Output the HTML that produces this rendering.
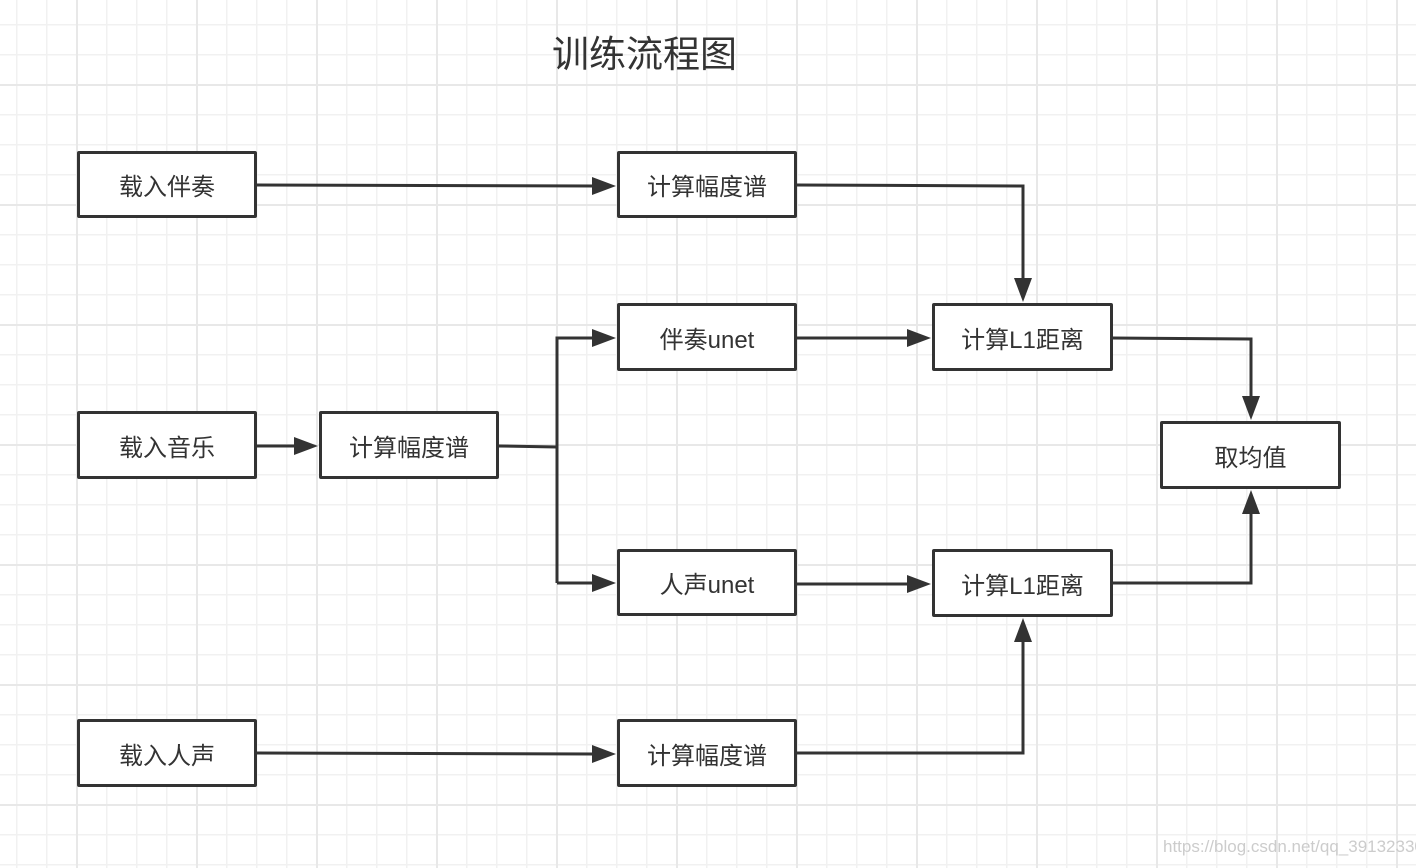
<!DOCTYPE html>
<html><head><meta charset="utf-8"><style>
html,body{margin:0;padding:0;}
body{width:1416px;height:868px;position:relative;overflow:hidden;background:#fff;
background-image:
linear-gradient(to right, #e8e8e8 2px, transparent 2px),
linear-gradient(to bottom, #e8e8e8 2px, transparent 2px),
linear-gradient(to right, #f1f1f1 1.5px, transparent 1.5px),
linear-gradient(to bottom, #f1f1f1 1.5px, transparent 1.5px);
background-size:120px 120px,120px 120px,30px 30px,30px 30px;
background-position:76px 0,0 84px,16px 0,0 24px;
font-family:"Liberation Sans","Noto Sans CJK SC",sans-serif;}
.b{position:absolute;box-sizing:border-box;border:3px solid #333;background:#fff;border-radius:2px;
display:flex;align-items:center;justify-content:center;font-size:24px;color:#333;}
.t{position:absolute;left:552px;top:24px;font-size:37px;color:#333;}
.w{position:absolute;left:1163px;top:837px;font-size:17px;color:#ccc;}
svg{position:absolute;left:0;top:0;}
</style></head><body>
<div class="t">训练流程图</div>
<svg width="1416" height="868"><defs><marker id="a" markerWidth="10" markerHeight="10" refX="9" refY="5" orient="auto" markerUnits="userSpaceOnUse"><path d="M0,0 L0,0" /></marker></defs>
<g stroke="#333" stroke-width="3" fill="none">
<path d="M256,185 L596,186"/>
<path d="M796,185 L1023,186 L1023,282"/>
<path d="M796,338 L911,338"/>
<path d="M1112,338 L1251,339 L1251,400"/>
<path d="M256,446 L298,446"/>
<path d="M498,446 L557,447"/>
<path d="M557,583 L557,338 L596,338"/>
<path d="M557,583 L596,583"/>
<path d="M796,584 L911,584"/>
<path d="M1112,583 L1251,583 L1251,510"/>
<path d="M256,753 L596,754"/>
<path d="M796,753 L1023,753 L1023,638"/>
</g>
<g fill="#333">
<path d="M616,186 l-24,-9 v18z"/>
<path d="M1023,302 l-9,-24 h18z"/>
<path d="M931,338 l-24,-9 v18z"/>
<path d="M1251,420 l-9,-24 h18z"/>
<path d="M318,446 l-24,-9 v18z"/>
<path d="M616,338 l-24,-9 v18z"/>
<path d="M616,583 l-24,-9 v18z"/>
<path d="M931,584 l-24,-9 v18z"/>
<path d="M1251,490 l-9,24 h18z"/>
<path d="M616,754 l-24,-9 v18z"/>
<path d="M1023,618 l-9,24 h18z"/>
</g></svg>
<div class="b" style="left:77px;top:151px;width:180px;height:67px">载入伴奏</div>
<div class="b" style="left:617px;top:151px;width:180px;height:67px">计算幅度谱</div>
<div class="b" style="left:617px;top:303px;width:180px;height:68px">伴奏unet</div>
<div class="b" style="left:932px;top:303px;width:181px;height:68px">计算L1距离</div>
<div class="b" style="left:77px;top:411px;width:180px;height:68px">载入音乐</div>
<div class="b" style="left:319px;top:411px;width:180px;height:68px">计算幅度谱</div>
<div class="b" style="left:1160px;top:421px;width:181px;height:68px">取均值</div>
<div class="b" style="left:617px;top:549px;width:180px;height:67px">人声unet</div>
<div class="b" style="left:932px;top:549px;width:181px;height:68px">计算L1距离</div>
<div class="b" style="left:77px;top:719px;width:180px;height:68px">载入人声</div>
<div class="b" style="left:617px;top:719px;width:180px;height:68px">计算幅度谱</div>
<div class="w">https://blog.csdn.net/qq_39132330</div>
</body></html>
